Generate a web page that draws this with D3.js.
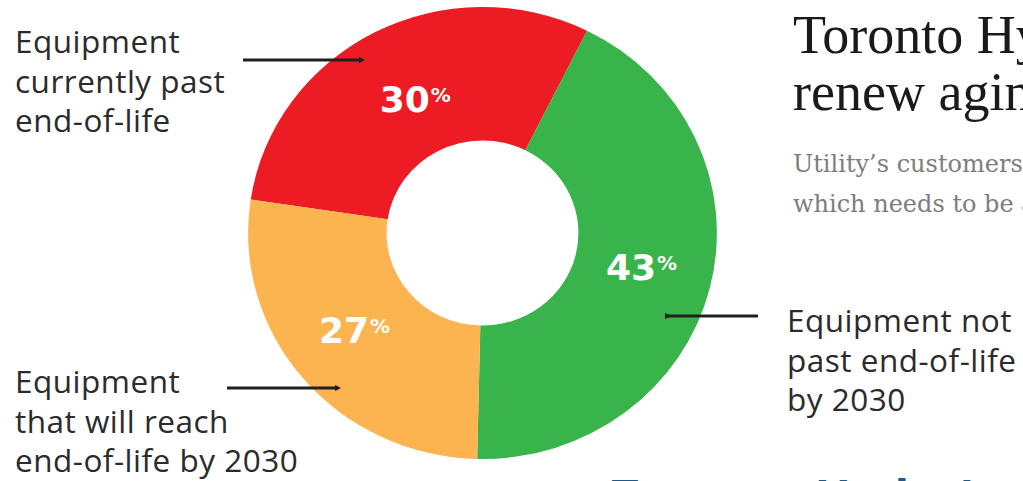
<!DOCTYPE html>
<html>
<head>
<meta charset="utf-8">
<script src="https://cdn.jsdelivr.net/npm/d3@7/dist/d3.min.js"></script>
<style>
  html, body { margin: 0; padding: 0; background: #ffffff; overflow: hidden; }
  svg { display: block; }
</style>
</head>
<body>
<script>
// ---- data ----
const categories = [
  "Equipment currently past end-of-life",
  "Equipment not past end-of-life by 2030",
  "Equipment that will reach end-of-life by 2030"
];
const values = [30, 43, 27];
const colors = ["#ED1C24", "#39B44A", "#FBB44F"];
const labelLines = [
  ["Equipment", "currently past", "end-of-life"],
  ["Equipment not", "past end-of-life", "by 2030"],
  ["Equipment", "that will reach", "end-of-life by 2030"]
];
const titleLines = ["Toronto Hydro", "renew aging"];
const subtitleLines = ["Utility\u2019s customers", "which needs to be a"];
const footerText = "Toronto Hydro\u2019s";

// ---- layout ----
const W = 1023, H = 481;
const cx = 482.5, cy = 233, sx = 1.037;
const rOuter = 226, rInner = 92.5, rLabel = 155;
const startDeg = -81.5;
const labelNudge = [[7, 3], [3, -3], [-5, -3]];
const callouts = [
  { text: [15, 53], line: [[243, 60], [362, 60]] },
  { text: [787, 332], line: [[668, 316], [758, 316]] },
  { text: [15, 393], line: [[227, 388], [338, 388]] }
];
const lineGap = 39.5;

const svg = d3.select("body").append("svg")
  .attr("width", W).attr("height", H);

const pie = d3.pie().sort(null).value(d => d)
  .startAngle(startDeg * Math.PI / 180)
  .endAngle(startDeg * Math.PI / 180 + 2 * Math.PI);
const arcs = pie(values);
const arc = d3.arc().innerRadius(rInner).outerRadius(rOuter);
const labelArc = d3.arc().innerRadius(rLabel).outerRadius(rLabel);

const g = svg.append("g").attr("transform", `translate(${cx},${cy}) scale(${sx},1)`);
g.selectAll("path").data(arcs).join("path")
  .attr("d", arc)
  .attr("fill", (d, i) => colors[i]);

// percent labels
const pl = svg.append("g");
arcs.forEach((d, i) => {
  const c = labelArc.centroid(d);
  const x = cx + c[0] * sx + labelNudge[i][0], y = cy + c[1] + labelNudge[i][1];
  const t = pl.append("text")
    .attr("x", x).attr("y", y + 13)
    .attr("text-anchor", "middle")
    .attr("fill", "#ffffff")
    .attr("font-family", "DejaVu Sans, sans-serif")
    .attr("font-weight", "bold");
  t.append("tspan").attr("font-size", 36).text(values[i]);
  t.append("tspan").attr("font-size", 20).attr("dy", -10).attr("dx", 1).text("%");
});

// callout lines and texts
svg.append("defs").append("marker")
  .attr("id", "tip").attr("viewBox", "0 0 6 6")
  .attr("refX", 3).attr("refY", 3)
  .attr("markerWidth", 2).attr("markerHeight", 2)
  .attr("orient", "auto")
  .append("path").attr("d", "M0,0 L6,3 L0,6 Z").attr("fill", "#231F20");

callouts.forEach((c, i) => {
  svg.append("path")
    .attr("d", d3.line()(c.line))
    .attr("stroke", "#231F20").attr("stroke-width", 3.2)
    .attr("fill", "none")
    .attr("marker-end", i === 1 ? null : "url(#tip)")
    .attr("marker-start", i === 1 ? "url(#tip)" : null);
  const t = svg.append("text")
    .attr("font-family", "Open Sans, sans-serif")
    .attr("font-size", 31.5)
    .attr("letter-spacing", 0.5)
    .attr("fill", "#2b2b2b");
  labelLines[i].forEach((ln, j) => {
    t.append("tspan").attr("x", c.text[0]).attr("y", c.text[1] + j * lineGap).text(ln);
  });
});

// title and subtitle (cropped at the right edge)
const title = svg.append("text")
  .attr("font-family", "Liberation Serif, serif")
  .attr("font-size", 54).attr("fill", "#1a1a1a");
titleLines.forEach((ln, j) => {
  title.append("tspan").attr("x", 793).attr("y", 53 + j * 57).text(ln);
});
const sub = svg.append("text")
  .attr("font-family", "DejaVu Serif, serif")
  .attr("font-size", 24).attr("fill", "#7d7d7d");
subtitleLines.forEach((ln, j) => {
  sub.append("tspan").attr("x", 793).attr("y", 172 + j * 40).text(ln);
});

// footer heading, only its top visible
svg.append("text")
  .attr("x", 611).attr("y", 515)
  .attr("font-family", "Open Sans, sans-serif")
  .attr("font-weight", "bold")
  .attr("font-size", 48)
  .attr("fill", "#1B5A8A")
  .text(footerText);
</script>
</body>
</html>
